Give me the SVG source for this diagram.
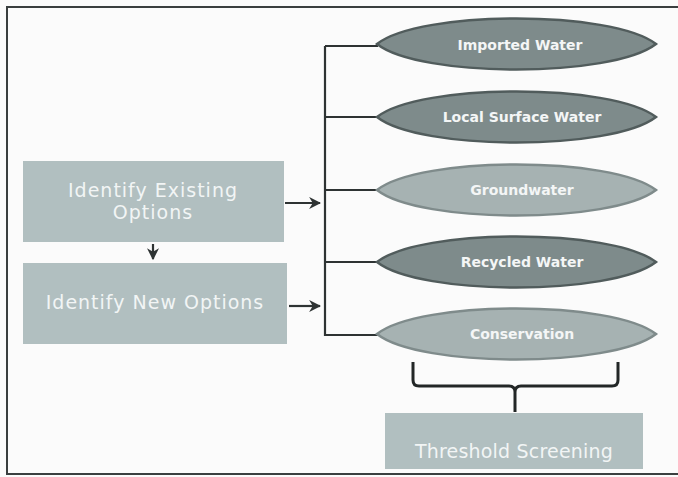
<svg xmlns="http://www.w3.org/2000/svg" width="678" height="477" viewBox="0 0 678 477">
<defs>
<style>
.bg{fill:#fbfbfb}
.frame{fill:none;stroke:#3a3f3f;stroke-width:2}
.box{fill:#b1bfc0}
.boxtxt{font-family:"DejaVu Sans",sans-serif;font-size:19px;letter-spacing:1px;fill:#f2f5f5;text-anchor:middle}
.dark{fill:#7e8b8b;stroke:#515c5c;stroke-width:2.5}
.light{fill:#a6b2b2;stroke:#7f8b8b;stroke-width:2.5}
.etxt{font-family:"DejaVu Sans",sans-serif;font-size:14px;font-weight:bold;fill:#f4f6f6;text-anchor:middle}
.line{fill:none;stroke:#2e3333;stroke-width:2.2}
.brace{fill:none;stroke:#222626;stroke-width:3;stroke-linejoin:round}
</style>
<marker id="ah" viewBox="0 0 10 10" refX="9" refY="5" markerWidth="5.5" markerHeight="5.5" orient="auto" markerUnits="strokeWidth">
<path d="M0,0 L10,5 L0,10 L3,5 Z" fill="#2e3333"/>
</marker>
</defs>
<rect class="bg" x="0" y="0" width="678" height="477"/>
<rect class="frame" x="7" y="7" width="690" height="467"/>

<g id="connectors">
<path class="line" d="M325,46 V336"/>
<path class="line" d="M325,46 H378"/>
<path class="line" d="M325,117 H378"/>
<path class="line" d="M325,190 H378"/>
<path class="line" d="M325,262 H378"/>
<path class="line" d="M325,335 H378"/>
<path class="line" d="M285,203 H320" marker-end="url(#ah)"/>
<path class="line" d="M289,306 H320" marker-end="url(#ah)"/>
<path class="line" d="M153,244 V259" marker-end="url(#ah)"/>
<path class="brace" d="M413,362 V380 Q413,386 419,386 H509 Q515,386 515,392 V412 M515,392 Q515,386 521,386 H612 Q618,386 618,380 V362"/>
</g>

<g id="existing">
<rect class="box" x="23" y="161" width="261" height="81"/>
<text class="boxtxt" x="153" y="197">Identify Existing</text>
<text class="boxtxt" x="153" y="219">Options</text>
</g>
<g id="new">
<rect class="box" x="23" y="263" width="264" height="81"/>
<text class="boxtxt" x="155" y="309">Identify New Options</text>
</g>

<g id="imported">
<path class="dark" d="M377,44 C420,10 612,10 656,44 C612,78 420,78 377,44 Z"/>
<text class="etxt" x="520" y="50">Imported Water</text>
</g>
<g id="local">
<path class="dark" d="M377,117 C420,83 612,83 656,117 C612,151 420,151 377,117 Z"/>
<text class="etxt" x="522" y="122">Local Surface Water</text>
</g>
<g id="groundwater">
<path class="light" d="M377,190 C420,156 612,156 656,190 C612,224 420,224 377,190 Z"/>
<text class="etxt" x="522" y="195">Groundwater</text>
</g>
<g id="recycled">
<path class="dark" d="M377,262 C420,228 612,228 656,262 C612,296 420,296 377,262 Z"/>
<text class="etxt" x="522" y="267">Recycled Water</text>
</g>
<g id="conservation">
<path class="light" d="M377,334 C420,300 612,300 656,334 C612,368 420,368 377,334 Z"/>
<text class="etxt" x="522" y="339">Conservation</text>
</g>

<g id="threshold">
<rect class="box" x="385" y="413" width="258" height="56"/>
<text class="boxtxt" x="514" y="458" style="letter-spacing:0.2px">Threshold Screening</text>
</g>
</svg>
